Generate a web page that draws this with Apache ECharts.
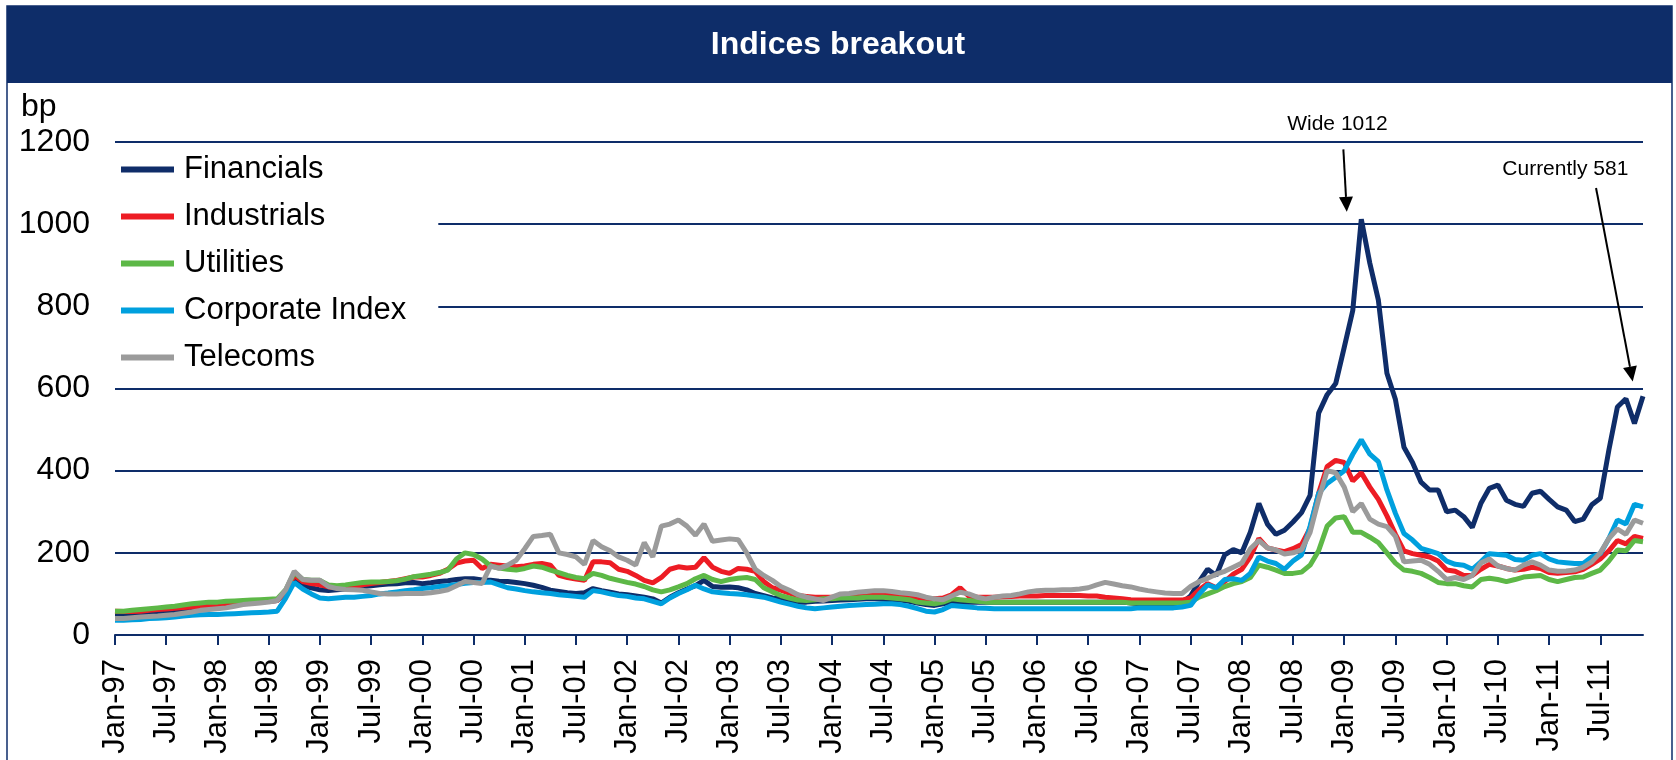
<!DOCTYPE html>
<html>
<head>
<meta charset="utf-8">
<title>Indices breakout</title>
<script src="https://cdn.jsdelivr.net/npm/echarts@6/dist/echarts.min.js"></script>
<style>
  html, body { margin: 0; padding: 0; background: #fff; }
  #chart { width: 1676px; height: 760px; }
</style>
</head>
<body>
<div id="chart"></div>
<script>
// monthly categories Jan-97 .. Dec-11
var monthNames = ['Jan', 'Feb', 'Mar', 'Apr', 'May', 'Jun', 'Jul', 'Aug', 'Sep', 'Oct', 'Nov', 'Dec'];
var months = [];
for (var yr = 1997; yr <= 2011; yr++) {
  for (var mo = 0; mo < 12; mo++) {
    months.push(monthNames[mo] + '-' + String(yr).slice(2));
  }
}

var seriesNames = ['Financials', 'Industrials', 'Utilities', 'Corporate Index', 'Telecoms'];
var seriesColors = ['#0F2D69', '#ED1C24', '#5DB847', '#00A0DE', '#9B9B9B'];

// spreads in bp, one value per month
var financials = [
  50, 50, 52, 54, 55, 56, 57, 60, 62, 64, 66, 68,
  70, 72, 74, 76, 78, 80, 82, 84, 105, 140, 120, 115,
  110, 108, 110, 112, 115, 118, 120, 122, 124, 125, 127, 128,
  125, 127, 130, 132, 135, 137, 137, 134, 133, 131, 130, 128,
  125, 121, 116, 109, 106, 103, 101, 103, 113, 108, 104, 100,
  98, 95, 92, 88, 78, 92, 103, 112, 120, 133, 118, 116,
  117, 115, 110, 101, 96, 90, 88, 85, 80, 80, 82, 83,
  84, 85, 86, 87, 88, 88, 87, 86, 85, 82, 78, 74,
  72, 76, 80, 80, 80, 80, 80, 80, 80, 80, 80, 80,
  80, 80, 80, 80, 80, 80, 80, 80, 80, 80, 80, 78,
  76, 76, 76, 76, 76, 78, 95, 130, 160, 145, 195, 208,
  200, 250, 320, 270, 245, 255, 275, 298, 340, 540, 585, 612,
  700, 790, 1012, 905, 815, 637, 573, 457, 420, 372, 353, 353,
  300, 304, 288, 262, 320, 357, 365, 328, 318, 313, 345, 350,
  330, 312, 304, 276, 282, 317, 333, 450, 555, 575, 515, 581
];
var industrials = [
  58, 57, 57, 58, 60, 62, 63, 65, 67, 68, 70, 72,
  73, 74, 76, 78, 79, 80, 82, 84, 105, 145, 130, 125,
  122, 117, 115, 117, 118, 122, 125, 128, 130, 133, 137, 141,
  141, 145, 150, 160, 175, 180, 182, 162, 172, 170, 168, 166,
  168, 172, 174, 170, 145, 140, 136, 133, 178, 178, 176, 160,
  155, 145, 133, 127, 140, 160, 166, 163, 165, 188, 165, 155,
  150, 162, 160, 155, 130, 115, 109, 102, 96, 94, 92, 92,
  92, 94, 97, 100, 100, 101, 101, 100, 98, 95, 90, 88,
  88, 90, 98, 115, 95, 92, 92, 92, 93, 94, 95, 95,
  95, 96, 96, 96, 96, 96, 95, 95, 92, 90, 88, 86,
  85, 85, 85, 85, 85, 85, 90, 110, 125, 115, 130, 148,
  160, 190, 235, 212, 207, 203, 210, 220, 260, 345, 410, 425,
  420, 375, 395, 360, 330, 290, 245, 205, 198, 194, 190, 180,
  158, 155, 145, 145, 160, 172, 168, 162, 158, 160, 165, 162,
  152, 150, 152, 154, 160, 172, 185, 205, 230, 222, 240, 235
];
var utilities = [
  58, 58, 60, 62, 64, 66, 68, 70, 73, 76, 78, 80,
  80, 82, 83, 84, 85, 86, 87, 88, 110, 152, 135, 133,
  133, 122, 120, 122, 125, 128, 129, 129, 130, 132, 136, 142,
  145, 148, 152, 158, 185, 200, 196, 185, 168, 163, 160, 158,
  162, 168, 165, 158, 152, 145, 140, 137, 150, 145, 138, 133,
  128, 124, 118, 110, 105, 110, 117, 125, 137, 145, 135, 130,
  135, 138, 140, 135, 115, 105, 96, 90, 85, 84, 86, 88,
  88, 90, 90, 90, 92, 92, 92, 90, 88, 86, 80, 78,
  76, 80, 88, 86, 84, 82, 80, 80, 80, 80, 80, 80,
  80, 80, 80, 80, 80, 80, 80, 80, 80, 80, 80, 78,
  78, 78, 78, 78, 78, 78, 80, 92, 100, 108, 118, 125,
  130, 140, 170, 165, 158, 150, 150, 153, 170, 205, 265, 285,
  288, 250, 250, 238, 225, 200, 175, 158, 155, 150, 140, 128,
  125, 125, 120, 117, 135, 138, 135, 130, 135, 141, 143, 145,
  135, 130, 135, 140, 141, 150, 158, 180, 207, 205, 230, 227
];
var corporate = [
  36, 36, 37, 38, 40, 41, 42, 44, 46, 48, 49, 50,
  50, 51, 52, 53, 54, 55, 56, 58, 90, 128, 112, 100,
  90, 88, 90, 92, 92, 94, 96, 100, 102, 105, 108, 110,
  113, 115, 118, 120, 123, 126, 128, 128, 129, 122, 115, 112,
  108, 105, 103, 101, 98, 96, 94, 92, 108, 105, 100, 96,
  94, 90, 88, 82, 76, 90, 101, 110, 121, 112, 105, 103,
  101, 100, 98, 95, 92, 86, 80, 75, 70, 66, 64, 66,
  68, 70, 72, 73, 74, 75, 76, 76, 74, 70, 64, 58,
  56, 62, 72, 70, 68, 66, 65, 64, 64, 64, 64, 64,
  64, 64, 64, 64, 64, 64, 64, 64, 64, 64, 64, 64,
  66, 66, 66, 66, 66, 68, 72, 100, 122, 115, 135, 137,
  133, 150, 190, 180, 174, 160, 180, 195, 265, 345, 369, 384,
  400, 440, 475, 440, 422, 353, 296, 247, 231, 211, 205, 198,
  180, 172, 170, 160, 178, 198, 196, 194, 184, 182, 194, 198,
  185, 178, 176, 174, 174, 190, 198, 235, 280, 270, 318, 312
];
var telecoms = [
  40, 40, 42, 44, 45, 46, 48, 50, 53, 56, 60, 62,
  64, 66, 70, 74, 76, 78, 80, 84, 110, 155, 135, 133,
  133, 118, 113, 111, 110, 109, 105, 101, 100, 100, 101, 101,
  101, 103, 106, 110, 120, 130, 128, 125, 168, 162, 170, 182,
  210, 240, 242, 245, 200, 196, 190, 172, 230, 215, 205, 190,
  182, 170, 225, 190, 265, 270, 280, 265, 243, 270, 228, 231,
  234, 232, 200, 160, 145, 133, 118, 109, 98, 92, 88, 84,
  92, 100, 101, 104, 106, 108, 108, 106, 103, 101, 98, 92,
  88, 86, 95, 104, 100, 92, 88, 92, 95, 96, 100, 105,
  108, 109, 109, 110, 110, 112, 115, 122, 128, 124, 120, 117,
  112, 108, 105, 102, 101, 101, 118, 130, 138, 148, 155, 165,
  175, 210, 230, 212, 207, 197, 200, 207, 250, 330, 400, 395,
  360, 300, 320, 282, 270, 264, 240, 178, 180, 182, 172, 155,
  135, 140, 135, 145, 175, 185, 168, 162, 158, 170, 178, 170,
  158, 155, 156, 158, 165, 178, 200, 235, 258, 245, 280, 272
];
var seriesData = [financials, industrials, utilities, corporate, telecoms];

var yTicks = [0, 200, 400, 600, 800, 1000, 1200];

// annotations: label pos, arrow start, arrow tip as (month index, bp)
var notes = [
  { text: 'Wide 1012', label: [143.2, 1244], from: [143.9, 1182], to: [144.3, 1030] },
  { text: 'Currently 581', label: [169.9, 1133], from: [173.5, 1088], to: [177.8, 617] }
];

var navy = '#0E2D69';
var font = "'Liberation Sans', Arial, sans-serif";

var chart = echarts.init(document.getElementById('chart'));

var halfYear = function (idx) { return idx % 6 === 0; };

var option = {
  animation: false,
  backgroundColor: '#fff',
  textStyle: { fontFamily: font },
  title: {
    text: 'Indices breakout',
    left: 'center',
    top: 29,
    padding: 0,
    textStyle: { color: '#fff', fontSize: 32, fontWeight: 'bold', fontFamily: font }
  },
  legend: {
    orient: 'vertical',
    left: 115,
    top: 146,
    padding: [8, 32, 8, 6],
    itemGap: 16,
    itemWidth: 53,
    itemHeight: 6,
    icon: 'rect',
    backgroundColor: '#fff',
    data: seriesNames,
    textStyle: { fontSize: 31, color: '#000', fontFamily: font, padding: [0, 0, 0, 5] }
  },
  grid: { left: 115, right: 33, top: 142, bottom: 125, containLabel: false, outerBoundsMode: 'none' },
  xAxis: {
    type: 'category',
    data: months,
    boundaryGap: false,
    axisLine: { lineStyle: { color: navy, width: 2 } },
    axisTick: { show: true, interval: halfYear, length: 10, lineStyle: { color: navy, width: 2 } },
    axisLabel: { interval: halfYear, rotate: 90, margin: 24, fontSize: 31, color: '#000', fontFamily: font },
    splitLine: { show: false }
  },
  yAxis: {
    type: 'value',
    min: yTicks[0],
    max: yTicks[yTicks.length - 1],
    interval: 200,
    axisLine: { show: false },
    axisTick: { show: false },
    axisLabel: { fontSize: 32, color: '#000', margin: 25, fontFamily: font,
      formatter: function (v) { return String(v); } },
    splitLine: { lineStyle: { color: navy, width: 2 } }
  },
  series: seriesNames.map(function (name, i) {
    return {
      name: name,
      type: 'line',
      data: seriesData[i],
      showSymbol: false,
      symbol: 'none',
      color: seriesColors[i],
      lineStyle: { width: 5, color: seriesColors[i] },
      z: 2 + i
    };
  })
};
chart.setOption(option);

// pixel position of a (fractional month, bp) pair
function px(m, v) {
  var i = Math.floor(m), f = m - i;
  var a = chart.convertToPixel({ gridIndex: 0 }, [i, v]);
  var b = chart.convertToPixel({ gridIndex: 0 }, [i + 1, v]);
  return [a[0] + (b[0] - a[0]) * f, a[1]];
}

var graphics = [
  { type: 'rect', z: 0, shape: { x: 7, y: 6, width: 1665, height: 800 },
    style: { fill: null, stroke: navy, lineWidth: 1.5 } },
  { type: 'rect', z: 1, shape: { x: 7, y: 6, width: 1665, height: 77 }, style: { fill: navy } },
  { type: 'text', z: 10, style: { text: 'bp', x: 21, y: 107, verticalAlign: 'middle',
    font: '32px ' + font, fill: '#000' } }
];

notes.forEach(function (n) {
  var L = px(n.label[0], n.label[1]);
  var S = px(n.from[0], n.from[1]);
  var P = px(n.to[0], n.to[1]);
  var dx = P[0] - S[0], dy = P[1] - S[1];
  var len = Math.sqrt(dx * dx + dy * dy);
  var ux = dx / len, uy = dy / len;
  var head = 15, half = 7;
  var B = [P[0] - ux * head, P[1] - uy * head];
  graphics.push({ type: 'text', z: 20, style: { text: n.text, x: L[0], y: L[1], align: 'center',
    verticalAlign: 'middle', font: '21px ' + font, fill: '#000' } });
  graphics.push({ type: 'line', z: 20, shape: { x1: S[0], y1: S[1], x2: B[0], y2: B[1] },
    style: { stroke: '#000', lineWidth: 2 } });
  graphics.push({ type: 'polygon', z: 20, shape: { points: [P,
    [B[0] - uy * half, B[1] + ux * half], [B[0] + uy * half, B[1] - ux * half]] },
    style: { fill: '#000' } });
});

chart.setOption({ graphic: graphics });
</script>
</body>
</html>
